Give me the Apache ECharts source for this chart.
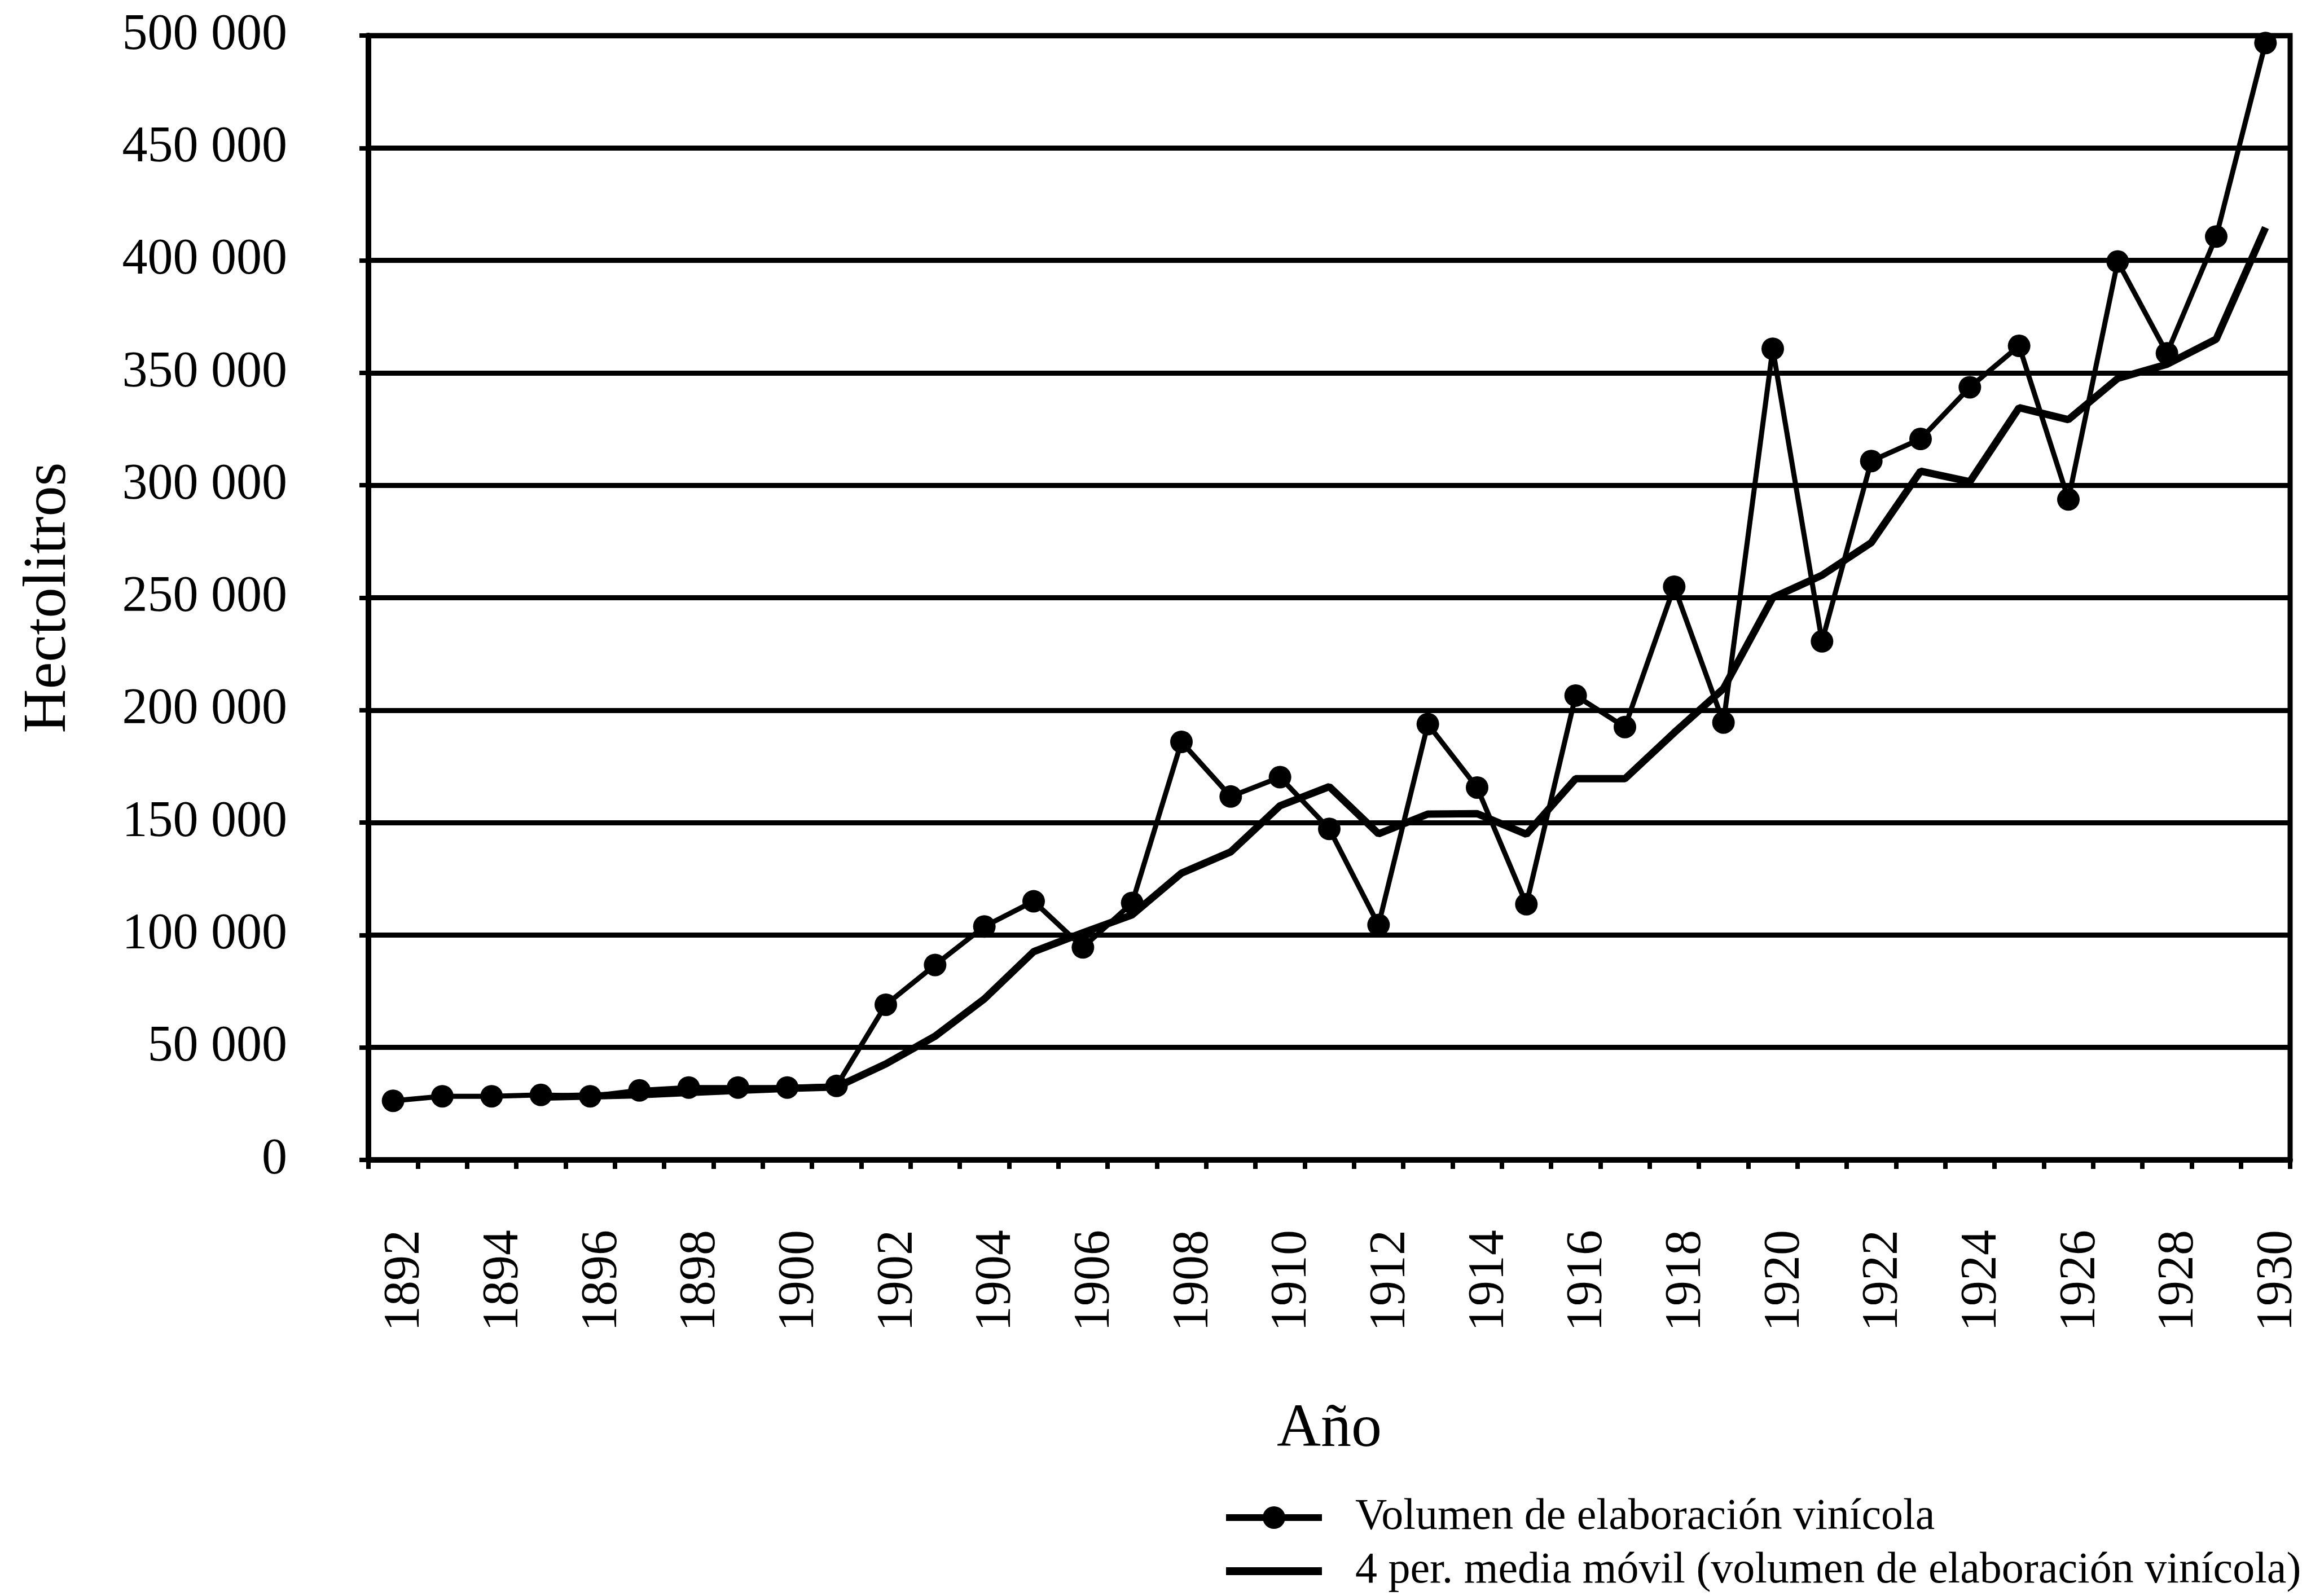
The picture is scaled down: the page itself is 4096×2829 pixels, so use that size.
<!DOCTYPE html>
<html>
<head>
<meta charset="utf-8">
<title>Volumen de elaboración vinícola 1892-1930</title>
<script src="https://cdn.jsdelivr.net/npm/echarts@6/dist/echarts.min.js"></script>
<style>
  html, body { margin: 0; padding: 0; background: #fff; }
  #chart { width: 4096px; height: 2829px; }
</style>
</head>
<body>
<div id="chart"></div>
<script>
// categorías: años
var years = ['1892', '1893', '1894', '1895', '1896', '1897', '1898', '1899', '1900', '1901',
  '1902', '1903', '1904', '1905', '1906', '1907', '1908', '1909', '1910', '1911',
  '1912', '1913', '1914', '1915', '1916', '1917', '1918', '1919', '1920', '1921',
  '1922', '1923', '1924', '1925', '1926', '1927', '1928', '1929', '1930']

// volumen de elaboración vinícola (hectolitros)
var volumen = [26300, 28300, 28300, 28900, 28300, 30900, 32200, 32200, 32200, 32900,
  69000, 86700, 103800, 115000, 94500, 114300, 185900, 161600, 170200, 147200,
  104500, 193800, 165600, 113700, 206500, 192500, 254900, 194500, 360700, 230600,
  310800, 320600, 343600, 362000, 293700, 399500, 358700, 410600, 496700]

// media móvil de 4 periodos (empieza en 1895)
var mediaMovil = [null, null, null, 27900, 28400, 29000, 30000, 30900, 31800, 32400,
  42700, 55000, 71600, 92600, 101000, 109000, 127500, 137000, 157500, 166000,
  145000, 153800, 154000, 144800, 169500, 169500, 190000, 209600, 250000, 260000,
  274500, 306300, 301600, 334500, 329200, 347500, 353800, 365000, 414600]

var nombreSerie = 'Volumen de elaboración vinícola'
var nombreMedia = '4 per. media móvil (volumen de elaboración vinícola)'

var fuente = 'Liberation Serif'

// iconos de la leyenda: línea con punto / línea gruesa
var iconoSerie = 'path://M0 14H170V26H0Z M65 20A20 20 0 1 1 105 20A20 20 0 1 1 65 20Z'
var iconoMedia = 'path://M0 0H170V14H0Z'

var textoLeyenda = {
  fontFamily: fuente,
  fontSize: 78,
  color: '#000',
  lineHeight: 80,
  padding: [0, 0, 0, 54]
}

var myChart = echarts.init(document.getElementById('chart'))

myChart.setOption({
  animation: false,
  backgroundColor: '#fff',
  grid: {
    left: 653,
    right: 37,
    top: 63,
    bottom: 773,
    show: true,
    borderColor: '#000',
    borderWidth: 9
  },
  legend: [
    {
      orient: 'vertical',
      left: 2168,
      top: 2645,
      itemWidth: 170,
      itemHeight: 40,
      textStyle: textoLeyenda,
      data: [{ name: nombreSerie, icon: iconoSerie }]
    },
    {
      orient: 'vertical',
      left: 2168,
      top: 2740,
      itemWidth: 170,
      itemHeight: 40,
      textStyle: textoLeyenda,
      data: [{ name: nombreMedia, icon: iconoMedia }]
    }
  ],
  xAxis: {
    type: 'category',
    data: years,
    boundaryGap: true,
    name: 'Año',
    nameLocation: 'middle',
    nameGap: 425,
    nameTextStyle: { fontFamily: fuente, fontSize: 108, color: '#000' },
    axisLine: { lineStyle: { color: '#000', width: 10 } },
    axisTick: { show: true, interval: 0, length: 16, lineStyle: { color: '#000', width: 8 } },
    axisLabel: {
      interval: 1,
      rotate: 90,
      margin: 124,
      fontFamily: fuente,
      fontSize: 90,
      color: '#000',
      verticalAlign: 'top',
      lineHeight: 44
    },
    splitLine: { show: false }
  },
  yAxis: {
    type: 'value',
    min: 0,
    max: 500000,
    interval: 50000,
    name: 'Hectolitros',
    nameLocation: 'middle',
    nameGap: 512,
    nameTextStyle: { fontFamily: fuente, fontSize: 108, color: '#000' },
    axisLine: { show: true, lineStyle: { color: '#000', width: 10 } },
    axisTick: { show: true, length: 16, lineStyle: { color: '#000', width: 8 } },
    axisLabel: {
      margin: 144,
      fontFamily: fuente,
      fontSize: 90,
      color: '#000',
      formatter: function (v) {
        return v === 0 ? '0' : String(v).replace(/\B(?=(\d{3})+(?!\d))/g, ' ')
      }
    },
    splitLine: { show: true, lineStyle: { color: '#000', width: 9 } }
  },
  series: [
    {
      name: nombreMedia,
      type: 'line',
      data: mediaMovil,
      symbol: 'none',
      lineStyle: { color: '#000', width: 13 },
      itemStyle: { color: '#000' },
      z: 2
    },
    {
      name: nombreSerie,
      type: 'line',
      data: volumen,
      symbol: 'circle',
      symbolSize: 40,
      lineStyle: { color: '#000', width: 9 },
      itemStyle: { color: '#000' },
      z: 3
    }
  ]
})
</script>
</body>
</html>
